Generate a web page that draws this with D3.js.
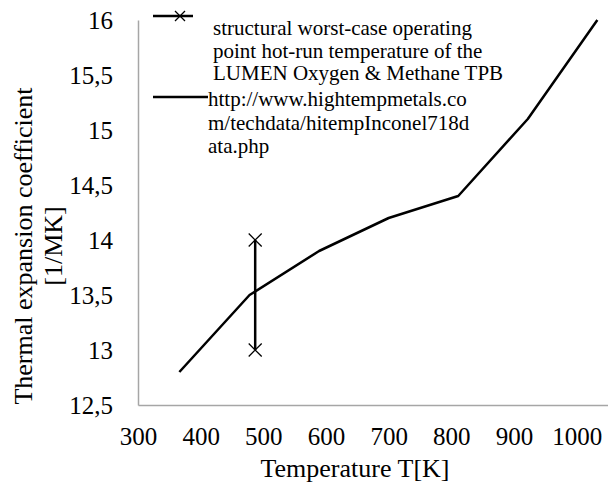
<!DOCTYPE html>
<html>
<head>
<meta charset="utf-8">
<script src="https://cdn.jsdelivr.net/npm/d3@7"></script>
<style>
  html, body { margin: 0; padding: 0; background: #fff; }
  svg { display: block; font-family: "Liberation Serif", "Times New Roman", serif; }
</style>
</head>
<body>
<svg id="chart" width="608" height="484"></svg>
<script>
// ---- data ----
const temperatures = [366, 478, 589, 700, 811, 922, 1033];
const cteValues = [12.8, 13.5, 13.9, 14.2, 14.4, 15.1, 16.0];
const worstCaseT = [487, 487];
const worstCaseCTE = [13.0, 14.0];
const xTicks = [300, 400, 500, 600, 700, 800, 900, 1000];
const yTicks = [12.5, 13, 13.5, 14, 14.5, 15, 15.5, 16];
const legendLabels1 = ["structural worst-case operating", "point hot-run temperature of the", "LUMEN Oxygen & Methane TPB"];
const legendLabels2 = ["http://www.hightempmetals.co", "m/techdata/hitempInconel718d", "ata.php"];
const xTitle = "Temperature T[K]";
const yTitleLines = ["Thermal expansion coefficient", "[1/MK]"];

const svg = d3.select("#chart");
const x = d3.scaleLinear().domain([300, 1050]).range([138, 608]);
const y = d3.scaleLinear().domain([12.5, 16]).range([405, 20]);

const fmt = v => String(v).replace(".", ",");

// axes
const xAxis = svg.append("g").attr("transform", "translate(0,405)")
  .call(d3.axisBottom(x).tickValues(xTicks).tickSize(0).tickPadding(22).tickFormat(d => d));
xAxis.attr("font-family", null);
xAxis.select(".domain").attr("stroke", "#a6a6a6").attr("stroke-width", 1.5);
xAxis.selectAll("text").attr("font-size", 25).attr("fill", "#000");

const yAxis = svg.append("g").attr("transform", "translate(138,0)")
  .call(d3.axisLeft(y).tickValues(yTicks).tickSize(0).tickPadding(25).tickFormat(fmt));
yAxis.attr("font-family", null);
yAxis.select(".domain").attr("stroke", "#a6a6a6").attr("stroke-width", 1.5);
yAxis.selectAll("text").attr("font-size", 25).attr("fill", "#000");

// titles
svg.append("text").attr("x", 355).attr("y", 477).attr("text-anchor", "middle")
  .attr("font-size", 26).text(xTitle);
yTitleLines.forEach((t, i) => {
  svg.append("text")
    .attr("transform", `translate(${32 + i * 30},246) rotate(-90)`)
    .attr("text-anchor", "middle").attr("font-size", 26).text(t);
});

// data line
const pts = temperatures.map((t, i) => [t, cteValues[i]]);
svg.append("path").datum(pts)
  .attr("fill", "none").attr("stroke", "#000").attr("stroke-width", 2.5)
  .attr("stroke-linejoin", "round")
  .attr("d", d3.line().x(d => x(d[0])).y(d => y(d[1])));

// worst-case series
const wc = worstCaseT.map((t, i) => [t, worstCaseCTE[i]]);
svg.append("path").datum(wc)
  .attr("fill", "none").attr("stroke", "#000").attr("stroke-width", 2.5)
  .attr("d", d3.line().x(d => x(d[0])).y(d => y(d[1])));

function xMarker(g, cx, cy, s) {
  g.append("path")
    .attr("d", `M${cx - s},${cy - s}L${cx + s},${cy + s}M${cx - s},${cy + s}L${cx + s},${cy - s}`)
    .attr("stroke", "#000").attr("stroke-width", 1.3).attr("fill", "none");
}
wc.forEach(d => xMarker(svg, x(d[0]), y(d[1]), 6.5));

// legend
const lg = svg.append("g");
lg.append("line").attr("x1", 153).attr("x2", 193).attr("y1", 16).attr("y2", 16)
  .attr("stroke", "#000").attr("stroke-width", 2.5);
xMarker(lg, 180, 16, 5);
legendLabels1.forEach((t, i) => {
  lg.append("text").attr("x", 213).attr("y", 35 + i * 22.5).attr("font-size", 21).text(t);
});
lg.append("line").attr("x1", 153).attr("x2", 208).attr("y1", 97).attr("y2", 97)
  .attr("stroke", "#000").attr("stroke-width", 2.5);
legendLabels2.forEach((t, i) => {
  lg.append("text").attr("x", 208).attr("y", 106 + i * 23.5).attr("font-size", 21).text(t);
});
</script>
</body>
</html>
